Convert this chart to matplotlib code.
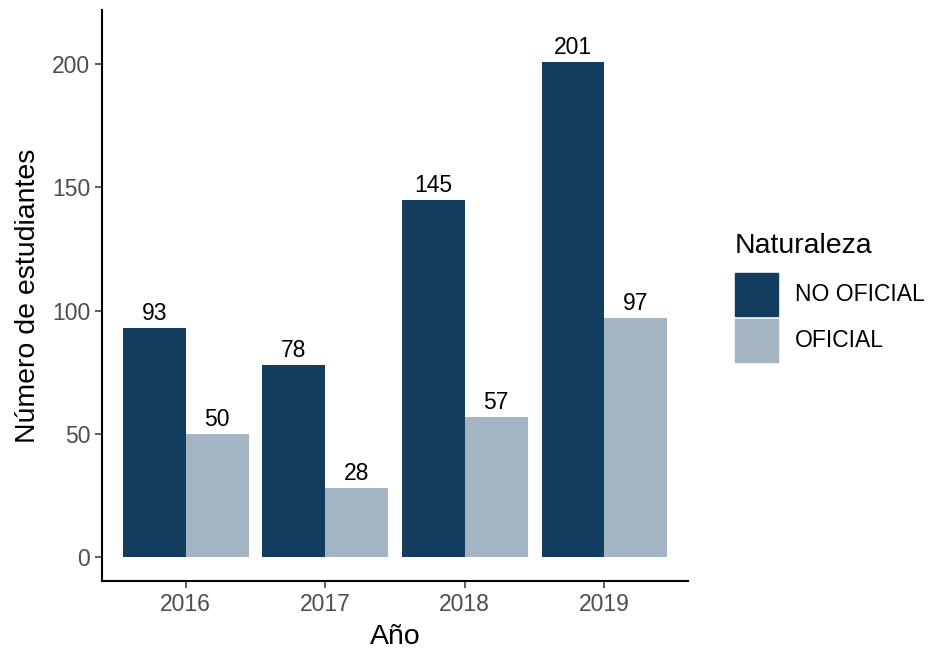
import numpy as np
import matplotlib.pyplot as plt
from matplotlib.patches import Rectangle

plt.rcParams['font.family'] = ['Liberation Sans', 'DejaVu Sans']

anios = ['2016', '2017', '2018', '2019']
no_oficial = [93, 78, 145, 201]
oficial = [50, 28, 57, 97]
grupos = ['NO OFICIAL', 'OFICIAL']
colores = ['#133d5e', '#a3b4c2']

W, H = 933, 652
fig = plt.figure(figsize=(W/100, H/100), dpi=100)
ax = fig.add_axes([102/W, 71/H, 586/W, 571/H])

x = np.arange(1, len(anios) + 1)
w = 0.45
for serie, off, col in [(no_oficial, -w/2, colores[0]), (oficial, w/2, colores[1])]:
    ax.bar(x + off, serie, width=w, color=col)
    for xi, v in zip(x + off, serie):
        ax.annotate(str(v), (xi, v), xytext=(0, 2), textcoords='offset points',
                    ha='center', va='bottom', fontsize=16.5, color='black')

ax.set_xlim(0.4, 4.6)
ax.set_ylim(-9.7, 221.9)
ax.set_xticks(x)
ax.set_xticklabels(anios)
ax.set_yticks([0, 50, 100, 150, 200])
ax.tick_params(labelsize=16.5, labelcolor='#4d4d4d', color='#333333', length=5, width=1.1)
for s in ['top', 'right']:
    ax.spines[s].set_visible(False)
for s in ['left', 'bottom']:
    ax.spines[s].set_linewidth(1.5)
ax.set_xlabel('Año', fontsize=20.5, labelpad=6)
ax.set_ylabel('Número de estudiantes', fontsize=20.5, labelpad=8)

# leyenda dibujada a mano (estilo ggplot)
fig.text(735/W, 1 - 253/H, 'Naturaleza', fontsize=20.5, ha='left', va='baseline')
for i, (g, c) in enumerate(zip(grupos, colores)):
    top = 273 + i * 46
    fig.add_artist(Rectangle((735/W, 1 - (top + 43)/H), 43/W, 43/H,
                             color=c, transform=fig.transFigure))
    fig.text(795/W, 1 - (top + 21.5)/H, g, fontsize=16.5, ha='left', va='center')

fig.savefig('out.png', dpi=100)
